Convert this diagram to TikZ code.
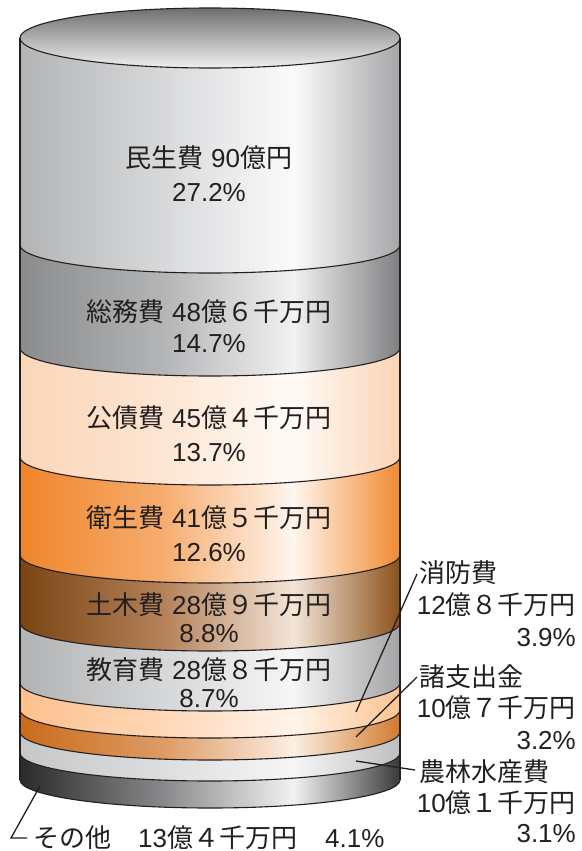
\documentclass[tikz,border=0pt]{standalone}
\usepackage{fontspec}
\setmainfont{Liberation Sans}
\newfontfamily\jpfont{Noto Sans CJK JP}
\newcommand{\jtxt}[1]{{\jpfont #1}}
\definecolor{ink}{HTML}{231F20}
\definecolor{topd}{HTML}{6E6F71}
\definecolor{topl}{HTML}{F0F0F0}
\definecolor{aL}{HTML}{B3B4B6}\definecolor{aM}{HTML}{D8D9DB}\definecolor{aH}{HTML}{FBFBFB}\definecolor{aR}{HTML}{A5A6A8}
\definecolor{bL}{HTML}{8A8B8D}\definecolor{bM}{HTML}{B4B5B7}\definecolor{bH}{HTML}{F2F2F2}\definecolor{bR}{HTML}{7E7F81}
\definecolor{cL}{HTML}{FBD6B8}\definecolor{cM}{HTML}{FDE6D3}\definecolor{cH}{HTML}{FFFAF6}\definecolor{cR}{HTML}{FBD4B5}
\definecolor{dL}{HTML}{F0852A}\definecolor{dM}{HTML}{F6AD70}\definecolor{dH}{HTML}{FFF6EE}\definecolor{dR}{HTML}{F08A30}
\definecolor{eL}{HTML}{7A4412}\definecolor{eM}{HTML}{B5825A}\definecolor{eH}{HTML}{F3E5D8}\definecolor{eR}{HTML}{8A521A}
\definecolor{fL}{HTML}{B2B3B5}\definecolor{fM}{HTML}{D6D7D9}\definecolor{fH}{HTML}{F6F6F6}\definecolor{fR}{HTML}{A2A3A5}
\definecolor{gL}{HTML}{FDC08E}\definecolor{gM}{HTML}{FED8B8}\definecolor{gH}{HTML}{FFF4EA}\definecolor{gR}{HTML}{FCC391}
\definecolor{hL}{HTML}{C96B1C}\definecolor{hM}{HTML}{DE9C66}\definecolor{hH}{HTML}{FBEFE4}\definecolor{hR}{HTML}{D27A2E}
\definecolor{iL}{HTML}{C6C7C9}\definecolor{iM}{HTML}{DDDEE0}\definecolor{iH}{HTML}{F6F6F6}\definecolor{iR}{HTML}{BDBEC0}
\definecolor{jL}{HTML}{2A2A2A}\definecolor{jM}{HTML}{8A8A8C}\definecolor{jH}{HTML}{F2F2F2}\definecolor{jR}{HTML}{3A3A3A}
\newcommand{\mkband}[1]{%
  \pgfdeclarehorizontalshading{band#1}{100bp}{color(0bp)=(#1L); color(25bp)=(#1L); color(44bp)=(#1M); color(61bp)=(#1H); color(75bp)=(#1R); color(100bp)=(#1R)}}
\mkband{a}\mkband{b}\mkband{c}\mkband{d}\mkband{e}\mkband{f}\mkband{g}\mkband{h}\mkband{i}\mkband{j}
\begin{document}
\begin{tikzpicture}[x=1pt,y=1pt,
  lbl/.style={font=\fontsize{26}{30}\selectfont, text=ink, inner sep=0pt},
  rim/.style={draw=ink, line width=1.1pt},
  leader/.style={draw=ink, line width=1.3pt},
  ring/.style={x radius=190, y radius=28}]
\useasboundingbox (0,0) rectangle (581,-851);
% bands painted from the bottom up: outlined ellipse at the band's bottom, then the band's rectangle
\shadedraw[shading=bandj, rim] (210,-780) ellipse[ring];
\shade[shading=bandj] (20,-753) rectangle (400,-780);
\shadedraw[shading=bandi, rim] (210,-753) ellipse[ring];
\shade[shading=bandi] (20,-732) rectangle (400,-753);
\shadedraw[shading=bandh, rim] (210,-732) ellipse[ring];
\shade[shading=bandh] (20,-710) rectangle (400,-732);
\shadedraw[shading=bandg, rim] (210,-710) ellipse[ring];
\shade[shading=bandg] (20,-683) rectangle (400,-710);
\shadedraw[shading=bandf, rim] (210,-683) ellipse[ring];
\shade[shading=bandf] (20,-623) rectangle (400,-683);
\shadedraw[shading=bande, rim] (210,-623) ellipse[ring];
\shade[shading=bande] (20,-555) rectangle (400,-623);
\shadedraw[shading=bandd, rim] (210,-555) ellipse[ring];
\shade[shading=bandd] (20,-457) rectangle (400,-555);
\shadedraw[shading=bandc, rim] (210,-457) ellipse[ring];
\shade[shading=bandc] (20,-348) rectangle (400,-457);
\shadedraw[shading=bandb, rim] (210,-348) ellipse[ring];
\shade[shading=bandb] (20,-245) rectangle (400,-348);
\shadedraw[shading=banda, rim] (210,-245) ellipse[ring];
\shade[shading=banda] (20,-38) rectangle (400,-245);
% top face
\shadedraw[top color=topd, bottom color=topl, rim] (210,-38) ellipse[x radius=190,y radius=30];
% sides
\draw[rim] (20,-38) -- (20,-780);
\draw[rim] (400,-38) -- (400,-780);
% centre labels
\node[lbl,anchor=base] (n1) at (209,-167.5) {\jtxt{民生費} 90\jtxt{億円}};
\node[lbl,anchor=base] (p1) at (209,-201.5) {27.2\%};
\node[lbl,anchor=base] (n2) at (209,-321.5) {\jtxt{総務費} 48\jtxt{億６千万円}};
\node[lbl,anchor=base] (p2) at (209,-352.5) {14.7\%};
\node[lbl,anchor=base] (n3) at (209,-427.5) {\jtxt{公債費} 45\jtxt{億４千万円}};
\node[lbl,anchor=base] (p3) at (209,-461) {13.7\%};
\node[lbl,anchor=base] (n4) at (209,-527.5) {\jtxt{衛生費} 41\jtxt{億５千万円}};
\node[lbl,anchor=base] (p4) at (209,-561) {12.6\%};
\node[lbl,anchor=base] (n5) at (209,-614.5) {\jtxt{土木費} 28\jtxt{億９千万円}};
\node[lbl,anchor=base] (p5) at (209,-642.5) {8.8\%};
\node[lbl,anchor=base] (n6) at (209,-679.5) {\jtxt{教育費} 28\jtxt{億８千万円}};
\node[lbl,anchor=base] (p6) at (209,-707.5) {8.7\%};
% right labels
\node[lbl,anchor=base west] (n7) at (419,-582.5) {\jtxt{消防費}};
\node[lbl,anchor=base east] (m7) at (576,-614.5) {12\jtxt{億８千万円}};
\node[lbl,anchor=base east] (p7) at (576,-646.5) {3.9\%};
\node[lbl,anchor=base west] (n8) at (419,-686.5) {\jtxt{諸支出金}};
\node[lbl,anchor=base east] (m8) at (576,-717.5) {10\jtxt{億７千万円}};
\node[lbl,anchor=base east] (p8) at (576,-749.5) {3.2\%};
\node[lbl,anchor=base west] (n9) at (419,-781.5) {\jtxt{農林水産費}};
\node[lbl,anchor=base east] (m9) at (576,-812.5) {10\jtxt{億１千万円}};
\node[lbl,anchor=base east] (p9) at (576,-842.5) {3.1\%};
% bottom label
\node[lbl,anchor=base west] (n10) at (33,-847) {\jtxt{その他}};
\node[lbl,anchor=base west] (m10) at (138,-847) {13\jtxt{億４千万円}};
\node[lbl,anchor=base west] (p10) at (325,-847) {4.1\%};
% leaders
\coordinate (a7) at (356,-712);
\coordinate (a8) at (356,-737);
\coordinate (a9) at (356,-761);
\coordinate (a10) at (40,-786);
\coordinate (k10) at (11,-838);
\coordinate (e10) at (27,-838);
\coordinate (t7) at (417,-574);
\coordinate (t8) at (417,-677);
\coordinate (t9) at (415,-770);
\draw[leader] (a7) -- (t7);
\draw[leader] (a8) -- (t8);
\draw[leader] (a9) -- (t9);
\draw[leader] (a10) -- (k10) -- (e10);
\end{tikzpicture}
\end{document}
